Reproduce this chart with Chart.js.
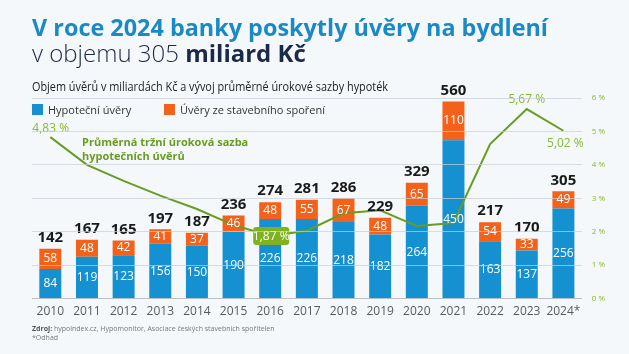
<!DOCTYPE html>
<html>
<head>
<meta charset="utf-8">
<script src="https://cdn.jsdelivr.net/npm/chart.js@4.4.1/dist/chart.umd.min.js"></script>
<style>
  html, body { margin: 0; padding: 0; background: #f5f8fa; }
  #wrap { width: 629px; height: 354px; }
</style>
</head>
<body>
<div id="wrap"><canvas id="myChart" width="629" height="354"></canvas></div>
<script>
const years = ['2010','2011','2012','2013','2014','2015','2016','2017','2018','2019','2020','2021','2022','2023','2024*']
const mortgages = [84,119,123,156,150,190,226,226,218,182,264,450,163,137,256]
const savings = [58,48,42,41,37,46,48,55,67,48,65,110,54,33,49]
const totals = [142,167,165,197,187,236,274,281,286,229,329,560,217,170,305]
const rates = [4.83,4.0,3.52,3.08,2.68,2.2,1.87,2.03,2.55,2.64,2.17,2.26,4.62,5.67,5.02]
const rateTicks = [0,1,2,3,4,5,6]

const BLUE = '#1590d0'
const ORANGE = '#f4611a'
const GREEN = '#6a9c1f'
const GREEN_TXT = '#8ab734'
const FONT = '"Open Sans", "Noto Sans", sans-serif'

function fmt(v) {
  return v.toFixed(2).replace('.', ',') + ' %'
}

function drawFit(ctx, text, x, y, font, color, width) {
  ctx.font = font
  ctx.fillStyle = color
  let w = ctx.measureText(text).width
  ctx.save()
  ctx.translate(x, y)
  if (width) ctx.scale(width / w, 1)
  ctx.fillText(text, 0, 0)
  ctx.restore()
  return width || w
}

const textPlugin = {
  id: 'texts',
  afterDatasetsDraw(chart) {
    const ctx = chart.ctx
    const bars1 = chart.getDatasetMeta(1).data
    const bars2 = chart.getDatasetMeta(2).data
    const pts = chart.getDatasetMeta(0).data
    ctx.save()
    ctx.textAlign = 'center'
    ctx.textBaseline = 'middle'
    years.forEach((y, i) => {
      const b = bars1[i], o = bars2[i]
      ctx.font = '12px ' + FONT
      ctx.fillStyle = '#ffffff'
      ctx.fillText(mortgages[i], b.x, (b.y + b.base) / 2)
      ctx.fillText(savings[i], o.x, (o.y + o.base) / 2)
      ctx.font = 'bold 15px ' + FONT
      ctx.fillStyle = '#1a1a1a'
      ctx.fillText(totals[i], o.x, o.y - 11)
    })

    // rate labels
    ctx.font = '12px ' + FONT
    ctx.fillStyle = GREEN_TXT
    ctx.textAlign = 'left'
    ctx.fillText(fmt(rates[0]), pts[0].x - 18, pts[0].y - 9)
    ctx.textAlign = 'center'
    ctx.fillText(fmt(rates[13]), pts[13].x, pts[13].y - 9)
    ctx.fillText(fmt(rates[14]), pts[14].x + 2, pts[14].y + 13)

    // boxed label 2016
    const p = pts[6]
    ctx.fillStyle = '#7fb21f'
    ctx.beginPath()
    ctx.roundRect(p.x - 17, p.y - 9, 36, 18, 3)
    ctx.fill()
    ctx.fillStyle = '#ffffff'
    ctx.fillText(fmt(rates[6]), p.x + 1, p.y)

    // annotation
    ctx.textAlign = 'left'
    ctx.font = 'bold 11px ' + FONT
    ctx.fillStyle = GREEN
    ctx.fillText('Průměrná tržní úroková sazba', 82, 143)
    ctx.fillText('hypotečních úvěrů', 82, 157)
    ctx.restore()
  },
  afterDraw(chart) {
    const ctx = chart.ctx
    ctx.save()
    ctx.textAlign = 'left'
    ctx.textBaseline = 'alphabetic'
    drawFit(ctx, 'V roce 2024 banky poskytly úvěry na bydlení', 32, 36, 'bold 24px ' + FONT, '#1b8ac4', 516)
    let w = drawFit(ctx, 'v objemu 305 ', 32, 62, '300 24px ' + FONT, '#1b2a4a')
    drawFit(ctx, 'miliard Kč', 32 + w, 62, 'bold 24px ' + FONT, '#1b2a4a')
    drawFit(ctx, 'Objem úvěrů v miliardách Kč a vývoj průměrné úrokové sazby hypoték', 32, 91, '12px ' + FONT, '#222222', 356)

    // legend
    ctx.fillStyle = BLUE
    ctx.fillRect(32, 104, 11, 11)
    ctx.fillStyle = ORANGE
    ctx.fillRect(164, 104, 11, 11)
    drawFit(ctx, 'Hypoteční úvěry', 48, 114, '11px ' + FONT, '#333333')
    drawFit(ctx, 'Úvěry ze stavebního spoření', 180, 114, '11px ' + FONT, '#333333')

    // source
    let sw = drawFit(ctx, 'Zdroj:', 32, 331, 'bold 7px ' + FONT, '#555555')
    drawFit(ctx, ' hypoindex.cz, Hypomonitor, Asociace českých stavebních spořitelen', 32 + sw, 331, '7px ' + FONT, '#777777')
    drawFit(ctx, '*Odhad', 32, 340, '7px ' + FONT, '#777777')
    ctx.restore()
  }
}

let chartCtx = document.getElementById('myChart').getContext('2d')

let comboChart = new Chart(chartCtx, {
  type: 'bar',
  data: {
    labels: years,
    datasets: [{
      type: 'line',
      label: 'Průměrná tržní úroková sazba',
      data: rates,
      yAxisID: 'y1',
      borderColor: GREEN,
      borderWidth: 2,
      pointRadius: 0,
      tension: 0,
      order: 0
    }, {
      label: 'Hypoteční úvěry',
      data: mortgages,
      backgroundColor: BLUE,
      yAxisID: 'y',
      stack: 's',
      categoryPercentage: 0.6,
      barPercentage: 1,
      order: 1
    }, {
      label: 'Úvěry ze stavebního spoření',
      data: savings,
      backgroundColor: ORANGE,
      yAxisID: 'y',
      stack: 's',
      categoryPercentage: 0.6,
      barPercentage: 1,
      order: 1
    }]
  },
  options: {
    responsive: false,
    animation: false,
    layout: {
      padding: { top: 98, left: 32, right: 14, bottom: 29 }
    },
    plugins: {
      legend: { display: false },
      tooltip: { enabled: false }
    },
    scales: {
      x: {
        stacked: true,
        grid: { display: false, drawTicks: false },
        border: { display: true, color: '#9aa0a6', width: 1 },
        ticks: { color: '#5a5a5a', font: { size: 12, family: FONT }, padding: 6, maxRotation: 0, autoSkip: false }
      },
      y: {
        stacked: true,
        display: false,
        min: 0,
        max: 570
      },
      y1: {
        position: 'right',
        min: 0,
        max: 6,
        afterBuildTicks: axis => { axis.ticks = rateTicks.map(v => ({ value: v })) },
        grid: { color: 'rgba(200,206,212,0.7)', drawTicks: false, z: 1 },
        border: { display: false },
        ticks: {
          color: GREEN_TXT,
          padding: 10,
          font: { size: 8, family: FONT },
          callback: v => v + ' %'
        }
      }
    }
  },
  plugins: [textPlugin]
})
</script>
</body>
</html>
